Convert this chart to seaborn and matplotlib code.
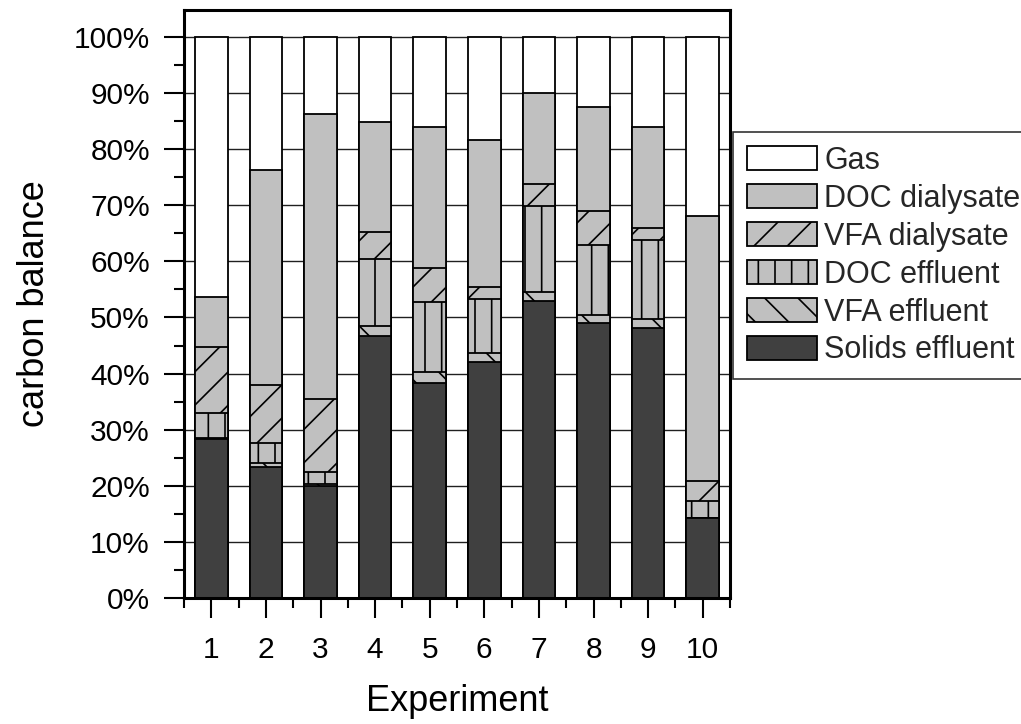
import numpy as np
import pandas as pd
import matplotlib
matplotlib.use("Agg")
import matplotlib.pyplot as plt
from matplotlib.patches import Patch
from matplotlib.ticker import FixedLocator
import seaborn as sns

# Carbon balance per experiment, % of input carbon (stacked bottom -> top)
experiments = ["1", "2", "3", "4", "5", "6", "7", "8", "9", "10"]
solids_effluent = [28.3, 23.4, 20.0, 46.7, 38.4, 42.1, 53.0, 49.0, 48.2, 14.2]
vfa_effluent = [0.3, 0.6, 0.3, 1.8, 1.8, 1.6, 1.6, 1.4, 1.5, 0.0]
doc_effluent = [4.3, 3.7, 2.2, 11.9, 12.6, 9.6, 15.2, 12.5, 14.1, 3.1]
vfa_dialysate = [11.9, 10.3, 12.9, 4.9, 6.1, 2.1, 3.9, 6.0, 2.1, 3.6]
doc_dialysate = [8.9, 38.3, 50.9, 19.6, 25.0, 26.2, 16.3, 18.6, 18.0, 47.1]
gas = [46.3, 23.7, 13.7, 15.1, 16.1, 18.4, 10.0, 12.5, 16.1, 32.0]

series_names = ["Solids effluent", "VFA effluent", "DOC effluent",
                "VFA dialysate", "DOC dialysate", "Gas"]
series_values = [solids_effluent, vfa_effluent, doc_effluent,
                 vfa_dialysate, doc_dialysate, gas]

DARK = "#404040"
LIGHT = "#c0c0c0"
styles = {
    "Solids effluent": dict(facecolor=DARK, hatch=None),
    "VFA effluent": dict(facecolor=LIGHT, hatch="\\"),
    "DOC effluent": dict(facecolor=LIGHT, hatch="|"),
    "VFA dialysate": dict(facecolor=LIGHT, hatch="/"),
    "DOC dialysate": dict(facecolor=LIGHT, hatch=None),
    "Gas": dict(facecolor="white", hatch=None),
}

sns.set_theme(style="white")
plt.rcParams["font.family"] = ["Liberation Sans", "DejaVu Sans"]
plt.rcParams["hatch.linewidth"] = 1.2
plt.rcParams["hatch.color"] = "black"

fig = plt.figure(figsize=(10.21, 7.24), dpi=100)
ax = fig.add_axes([184 / 1021, 1 - 598 / 724, (730 - 184) / 1021, (598 - 10) / 724])

# cumulative tops; draw tallest first so each lower segment covers the one above
tops = np.cumsum(np.array(series_values), axis=0)
df = pd.DataFrame(tops.T, columns=series_names)
df["Experiment"] = experiments

for name in reversed(series_names):
    st = styles[name]
    sns.barplot(data=df, x="Experiment", y=name, order=experiments,
                color=st["facecolor"], saturation=1, width=0.6,
                edgecolor="black", linewidth=1.3, hatch=st["hatch"],
                errorbar=None, ax=ax, zorder=3)

ax.set_xlim(-0.5, 9.5)
ax.set_ylim(0, 104.8)

ax.yaxis.set_major_locator(FixedLocator(np.arange(0, 101, 10)))
ax.yaxis.set_minor_locator(FixedLocator(np.arange(5, 100, 10)))
ax.set_yticklabels([f"{v}%" for v in range(0, 101, 10)])
ax.xaxis.set_minor_locator(FixedLocator(np.arange(-0.5, 10, 1.0)))

ax.tick_params(axis="both", which="major", direction="out", length=14.5,
               width=1.5, color="black", labelsize=21.5, labelcolor="black",
               bottom=True, left=True)
ax.tick_params(axis="both", which="minor", direction="out", length=7.5,
               width=1.5, color="black", bottom=True, left=True)
ax.tick_params(axis="x", which="major", pad=13)
ax.tick_params(axis="y", which="major", pad=10)

ax.grid(axis="y", which="major", color="#202020", linewidth=1.0, zorder=0)
ax.set_axisbelow(True)

for sp in ax.spines.values():
    sp.set_visible(True)
    sp.set_color("black")
    sp.set_linewidth(2.2)
    sp.set_zorder(5)

ax.set_xlabel("Experiment", fontsize=26, color="black", labelpad=14)
ax.set_ylabel("carbon balance", fontsize=26, color="black", labelpad=16)

handles = [Patch(facecolor=styles[n]["facecolor"], edgecolor="black",
                 hatch=styles[n]["hatch"], linewidth=1.3, label=n)
           for n in reversed(series_names)]
leg = fig.legend(handles=handles, loc="upper left",
                 bbox_to_anchor=(733 / 1021, 1 - 132 / 724),
                 fontsize=22, frameon=True, fancybox=False, shadow=False,
                 borderaxespad=0, borderpad=0.45, handlelength=2.3,
                 handleheight=0.82, handletextpad=0.23, labelspacing=0.26)
leg.get_frame().set_edgecolor("black")
leg.get_frame().set_linewidth(1.2)
leg.get_frame().set_facecolor("white")

fig.savefig("out.png", dpi=100, facecolor="white")
